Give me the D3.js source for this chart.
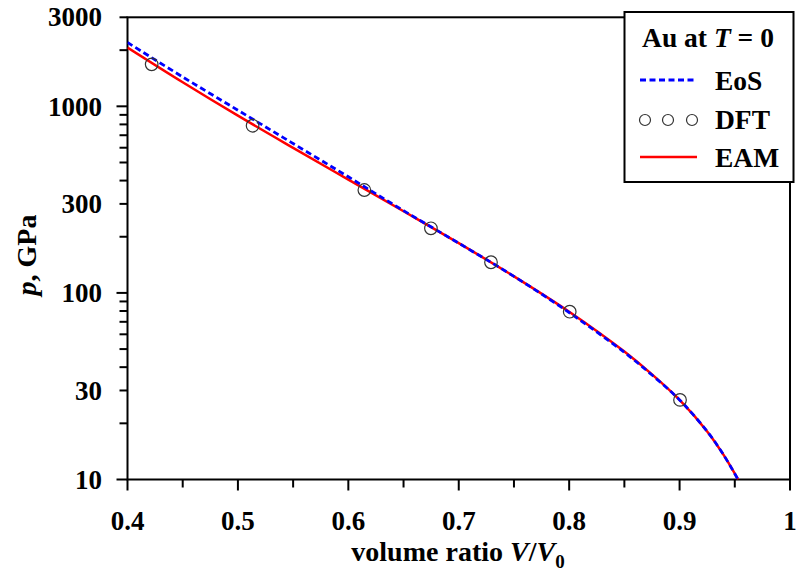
<!DOCTYPE html>
<html><head><meta charset="utf-8">
<script src="https://cdn.jsdelivr.net/npm/d3@7"></script>
<style>
html,body{margin:0;padding:0;background:#fff;}
text{font-family:"Liberation Serif","Times New Roman",serif;font-weight:bold;}
</style></head>
<body><svg id="c" width="798" height="571"></svg>
<script>
// ---- data ----
const dftV = [0.4219, 0.5133, 0.6145, 0.6748, 0.7292, 0.8005, 0.9004];
const dftP = [1679, 787, 356, 222, 146, 79.3, 26.7];

const eamV = [0.40, 0.45, 0.50, 0.55, 0.60, 0.65, 0.70, 0.75, 0.80, 0.85, 0.875, 0.90, 0.925, 0.94, 0.953];
const eamP = [2066, 1346, 891, 599, 405, 274, 184.7, 122.7, 79.3, 48.5, 36.6, 26.7, 18.1, 13.5, 10];

const eosV = [0.40, 0.45, 0.50, 0.55, 0.60, 0.65, 0.70, 0.75, 0.80, 0.85, 0.875, 0.90, 0.925, 0.94, 0.953];
const eosP = [2198, 1437, 953, 632, 419, 276, 184.7, 122.7, 78.5, 48.0, 36.3, 26.7, 18.1, 13.5, 10];

const xTicks = [0.4, 0.5, 0.6, 0.7, 0.8, 0.9, 1.0];
const xTickLabels = ["0.4", "0.5", "0.6", "0.7", "0.8", "0.9", "1"];
const xMinor = [0.45, 0.55, 0.65, 0.75, 0.85, 0.95];
const yLabelTicks = [10, 30, 100, 300, 1000, 3000];
const yMajor = [10, 100, 1000];
const yMinor = [20, 30, 40, 50, 60, 70, 80, 90, 200, 300, 400, 500, 600, 700, 800, 900, 2000, 3000];

const legendTitle = "Au at ";
const legendLabels = ["EoS", "DFT", "EAM"];

// ---- layout ----
const L = 127.5, R = 790, T = 17.3, B = 479.5;
const svg = d3.select("#c");
const x = d3.scaleLinear().domain([0.4, 1.0]).range([L, R]);
const y = d3.scaleLog().domain([10, 3000]).range([B, T]);

svg.append("defs").append("clipPath").attr("id", "clip")
  .append("rect").attr("x", L).attr("y", T).attr("width", R - L).attr("height", B - T);

// frame
svg.append("rect").attr("x", L).attr("y", T).attr("width", R - L).attr("height", B - T)
  .attr("fill", "none").attr("stroke", "#000").attr("stroke-width", 2);

// x axis ticks
const gx = svg.append("g");
gx.selectAll("line.maj").data(xTicks).join("line")
  .attr("x1", d => x(d)).attr("x2", d => x(d)).attr("y1", B).attr("y2", B + 11)
  .attr("stroke", "#000").attr("stroke-width", 2);
gx.selectAll("line.min").data(xMinor).join("line")
  .attr("x1", d => x(d)).attr("x2", d => x(d)).attr("y1", B).attr("y2", B + 8)
  .attr("stroke", "#000").attr("stroke-width", 2);
gx.selectAll("text").data(xTicks).join("text")
  .attr("x", d => x(d)).attr("y", 530).attr("text-anchor", "middle")
  .style("font-size", "27px").text((d, i) => xTickLabels[i]);

// y axis ticks
const gy = svg.append("g");
gy.selectAll("line.maj").data(yMajor).join("line")
  .attr("x1", L - 11).attr("x2", L).attr("y1", d => y(d)).attr("y2", d => y(d))
  .attr("stroke", "#000").attr("stroke-width", 2);
gy.selectAll("line.min").data(yMinor).join("line")
  .attr("x1", L - 8).attr("x2", L).attr("y1", d => y(d)).attr("y2", d => y(d))
  .attr("stroke", "#000").attr("stroke-width", 2);
gy.selectAll("text").data(yLabelTicks).join("text")
  .attr("x", 102).attr("y", d => y(d)).attr("dy", "0.34em").attr("text-anchor", "end")
  .style("font-size", "27px").text(d => d);

// axis titles
const xt = svg.append("text").attr("x", 458).attr("y", 561).attr("text-anchor", "middle").style("font-size", "28px");
xt.append("tspan").text("volume ratio ");
xt.append("tspan").attr("font-style", "italic").text("V");
xt.append("tspan").text("/");
xt.append("tspan").attr("font-style", "italic").text("V");
xt.append("tspan").style("font-size", "19px").attr("dy", 7).text("0");

const yt = svg.append("text").attr("transform", "translate(36,255) rotate(-90)")
  .attr("text-anchor", "middle").style("font-size", "28px");
yt.append("tspan").attr("font-style", "italic").text("p");
yt.append("tspan").text(", GPa");

// curves
const plot = svg.append("g").attr("clip-path", "url(#clip)");
const line = d3.line().x(d => x(d[0])).y(d => y(d[1])).curve(d3.curveCatmullRom.alpha(0.5));
const eam = eamV.map((v, i) => [v, eamP[i]]);
const eos = eosV.map((v, i) => [v, eosP[i]]);
plot.append("path").datum(eam).attr("d", line).attr("fill", "none")
  .attr("stroke", "#ff0000").attr("stroke-width", 2.5);
plot.append("path").datum(eos).attr("d", line).attr("fill", "none")
  .attr("stroke", "#0000ff").attr("stroke-width", 2.8).attr("stroke-dasharray", "6,3.5");

// DFT circles
svg.append("g").selectAll("circle").data(dftV).join("circle")
  .attr("cx", d => x(d)).attr("cy", (d, i) => y(dftP[i])).attr("r", 6.3)
  .attr("fill", "none").attr("stroke", "#333").attr("stroke-width", 1.2);

// legend
const lg = svg.append("g");
lg.append("rect").attr("x", 624.5).attr("y", 12).attr("width", 169).attr("height", 170)
  .attr("fill", "#fff").attr("stroke", "#000").attr("stroke-width", 2);
const tt = lg.append("text").attr("x", 708).attr("y", 47).attr("text-anchor", "middle").style("font-size", "27.5px");
tt.append("tspan").text(legendTitle);
tt.append("tspan").attr("font-style", "italic").text("T");
tt.append("tspan").text(" = 0");
lg.append("line").attr("x1", 640).attr("x2", 697).attr("y1", 80).attr("y2", 80)
  .attr("stroke", "#0000ff").attr("stroke-width", 2.8).attr("stroke-dasharray", "6,3.5");
lg.selectAll("circle").data([645, 668, 692]).join("circle")
  .attr("cx", d => d).attr("cy", 120).attr("r", 5.5)
  .attr("fill", "none").attr("stroke", "#333").attr("stroke-width", 1.2);
lg.append("line").attr("x1", 640).attr("x2", 697).attr("y1", 157).attr("y2", 157)
  .attr("stroke", "#ff0000").attr("stroke-width", 2.5);
lg.selectAll("text.lab").data(legendLabels).join("text").attr("class", "lab")
  .attr("x", 715).attr("y", (d, i) => 90 + i * 38.5).style("font-size", "27.5px").text(d => d);
</script></body></html>
